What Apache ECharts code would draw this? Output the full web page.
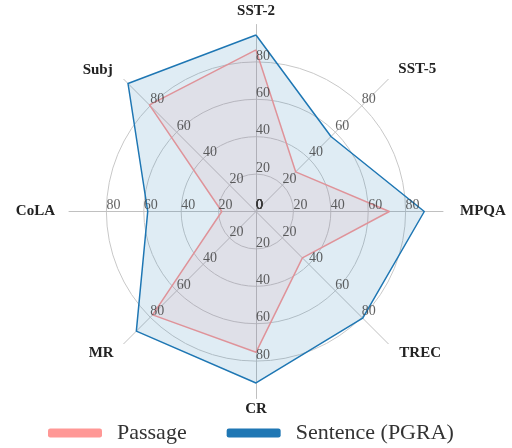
<!DOCTYPE html>
<html>
<head>
<meta charset="utf-8">
<script src="https://cdn.jsdelivr.net/npm/echarts@6/dist/echarts.min.js"></script>
<style>html,body{margin:0;padding:0;background:#fff}#c{width:512px;height:448px}</style>
</head>
<body>
<div id="c"></div>
<script>
// clockwise from top
const categories = ['SST-2', 'SST-5', 'MPQA', 'TREC', 'CR', 'MR', 'CoLA', 'Subj'];
const passage = [86.4, 30.0, 71.3, 35.1, 75.3, 78.2, 18.3, 80.6];
const sentence = [94.4, 56.7, 90.0, 80.7, 91.7, 90.5, 57.9, 96.8];
const seriesNames = ['Passage', 'Sentence (PGRA)'];
const tickValues = [0, 20, 40, 60, 80];
const rMax = 100;

// ECharts radar places indicators counter-clockwise: reorder
const order = [0, 7, 6, 5, 4, 3, 2, 1];
const reord = arr => order.map(i => arr[i]);

const serif = 'Liberation Serif, Times New Roman, Times, serif';
const CX = 256, CY = 211.5, R = 187;
const PINK = '#ff9896', BLUE = '#1f77b4';

// extra spacing of each spoke name (padding [top, right, bottom, left])
const namePad = [[0, 0, 3, 0], [0, 0, 16, 8], [0, 0, 0, 14], [14, 0, 0, 9],
                 [0, 0, 0, 0], [14, 8, 0, 0], [0, 11, 0, 0], [0, 9, 14, 0]];
const nameRich = {};
categories.forEach((c, i) => {
  nameRich['n' + i] = {color: '#222', fontWeight: 'bold', fontSize: 15, fontFamily: serif, padding: namePad[i]};
});

// tick labels on every spoke (polar coordinates, clockwise like the categories)
const tickData = [];
categories.forEach((c, ci) => tickValues.forEach(v => tickData.push([v, ci])));

const chart = echarts.init(document.getElementById('c'), null, {renderer: 'canvas'});
chart.setOption({
  animation: false,
  textStyle: {fontFamily: serif},
  radar: {
    center: [CX, CY],
    radius: R,
    shape: 'circle',
    splitNumber: 5,
    indicator: reord(categories).map(n => ({name: n, min: 0, max: rMax})),
    axisName: {
      color: '#222', fontWeight: 'bold', fontSize: 15, fontFamily: serif,
      formatter: name => '{n' + categories.indexOf(name) + '|' + name + '}',
      rich: nameRich
    },
    nameGap: 3,
    axisLine: {show: true, lineStyle: {color: '#c0c0c0', width: 1}},
    splitLine: {show: true, lineStyle: {color: ['#c8c8c8', '#c8c8c8', '#c8c8c8', '#c8c8c8', '#c8c8c8', 'rgba(0,0,0,0)'], width: 1}},
    splitArea: {show: false},
    axisTick: {show: false},
    axisLabel: {show: false}
  },
  polar: {center: [CX, CY], radius: R},
  angleAxis: {type: 'category', data: categories, startAngle: 90, clockwise: true, boundaryGap: false, show: false},
  radiusAxis: {min: 0, max: rMax, show: false},
  legend: {
    top: 417,
    left: 43,
    icon: 'roundRect',
    itemWidth: 54,
    itemHeight: 9,
    itemGap: 40,
    textStyle: {fontSize: 22, fontFamily: serif, color: '#333', padding: [0, 0, 0, 10]},
    data: seriesNames
  },
  series: [{
    type: 'radar',
    symbol: 'none',
    data: [
      {name: seriesNames[0], value: reord(passage),
       lineStyle: {color: PINK, width: 1.5},
       itemStyle: {color: PINK},
       areaStyle: {color: 'rgba(255,152,150,0.2)'}},
      {name: seriesNames[1], value: reord(sentence),
       lineStyle: {color: BLUE, width: 1.5},
       itemStyle: {color: BLUE},
       areaStyle: {color: 'rgba(31,119,180,0.2)'}}
    ]
  }, {
    type: 'scatter',
    coordinateSystem: 'polar',
    symbolSize: 0,
    silent: true,
    z: 5,
    data: tickData,
    label: {
      show: true,
      position: [0, 1],
      align: 'left',
      verticalAlign: 'bottom',
      formatter: p => String(p.value[0]),
      color: '#3a3a3a',
      fontSize: 14,
      fontFamily: serif
    }
  }]
});
</script>
</body>
</html>
